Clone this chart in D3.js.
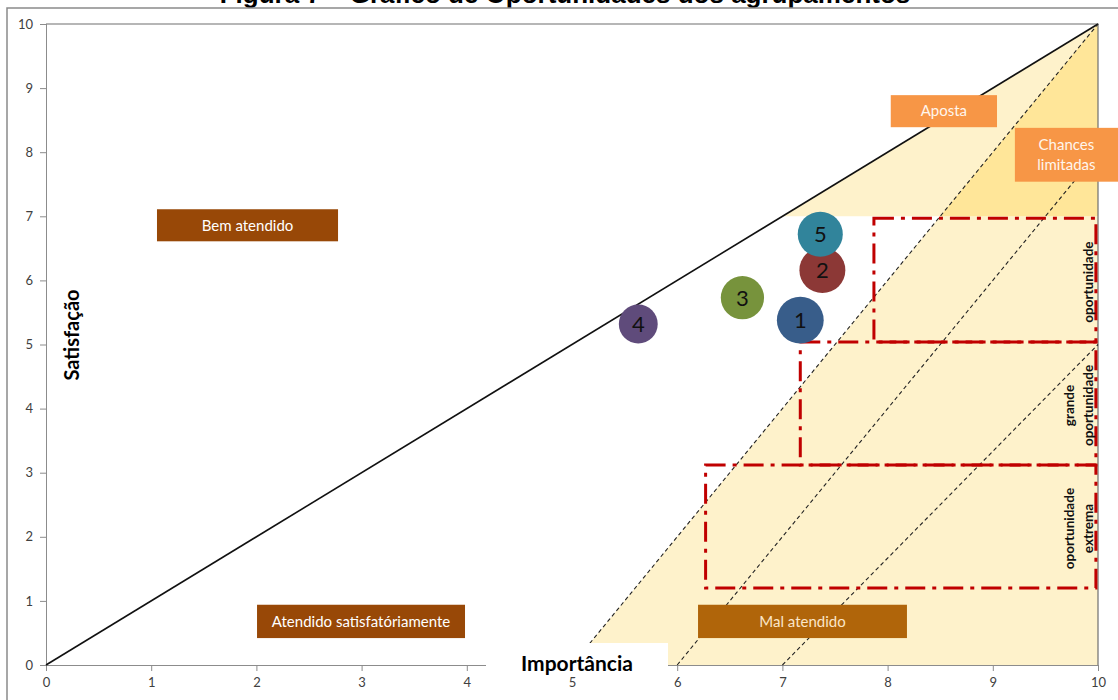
<!DOCTYPE html>
<html>
<head>
<meta charset="utf-8">
<script src="https://cdn.jsdelivr.net/npm/d3@7"></script>
<style>
  body { margin: 0; background: #fff; }
  svg { display: block; }
</style>
</head>
<body>
<div id="svg_container"></div>
<script>
var width = 1118,
    height = 700;

// agrupamentos (bolhas)
var grupos = ["1", "2", "3", "4", "5"];
var importancia = [7.17, 7.38, 6.62, 5.63, 7.36];
var satisfacao = [5.38, 6.16, 5.73, 5.32, 6.72];
var tamanho = [5.5, 5.3, 4.7, 3.8, 5.1];
var cores = ["#385D8A", "#8C3836", "#77933C", "#5F4B7B", "#31849B"];

var ticks = [0, 1, 2, 3, 4, 5, 6, 7, 8, 9, 10];

// linhas tracejadas de oportunidade
var tracejadas = [[[5, 0], [10, 10]], [[6, 0], [10, 8]], [[7, 0], [10, 5]]];

// faixas de oportunidade (retangulos vermelhos)
var faixas = [
  {x0: 7.87, x1: 9.98, y0: 5.04, y1: 6.97, linhas: ["oportunidade"]},
  {x0: 7.17, x1: 9.98, y0: 3.12, y1: 5.04, linhas: ["grande", "oportunidade"]},
  {x0: 6.27, x1: 9.98, y0: 1.20, y1: 3.12, linhas: ["oportunidade", "extrema"]}
];

// caixas de rotulos
var rotulos = [
  {texto: ["Bem atendido"], x0: 1.055, x1: 2.776, y0: 6.61, y1: 7.11, cor: "#984807", txt: "#ffffff"},
  {texto: ["Atendido satisfatóriamente"], x0: 2.006, x1: 3.983, y0: 0.42, y1: 0.94, cor: "#984807", txt: "#ffffff"},
  {texto: ["Mal atendido"], x0: 6.198, x1: 8.184, y0: 0.42, y1: 0.94, cor: "#B0650A", txt: "#FBE6C8"},
  {texto: ["Aposta"], x0: 8.03, x1: 9.04, y0: 8.39, y1: 8.89, cor: "#F79646", txt: "#FFF5EC"},
  {texto: ["Chances", "limitadas"], x0: 9.21, x1: 10.2, y0: 7.54, y1: 8.38, cor: "#F79646", txt: "#FFF5EC"}
];

var x = d3.scaleLinear().domain([0, 10]).range([46, 1098]);
var y = d3.scaleLinear().domain([0, 10]).range([665, 24]);
var r = d3.scaleSqrt().domain([0, d3.max(tamanho)]).range([0, 23.4]);

var svg = d3.select('#svg_container').append('svg')
    .attr('width', width)
    .attr('height', height)
    .style('font-family', 'Lato, "Open Sans", sans-serif');

// titulo (cortado no topo, como no original)
svg.append('text')
    .attr('x', 565).attr('y', 3)
    .attr('text-anchor', 'middle')
    .style('font-family', '"Liberation Sans", Arial, sans-serif')
    .style('font-weight', 'bold')
    .style('font-size', '26px')
    .text('Figura 7 – Gráfico de Oportunidades dos agrupamentos');

// moldura
svg.append('path')
    .attr('d', 'M7,' + height + 'V8H' + width)
    .style('fill', 'none').style('stroke', '#8a8a8a').style('stroke-width', 1.5);

// areas amarelas
var area = function (pts) {
  return 'M' + pts.map(function (p) { return x(p[0]) + ',' + y(p[1]); }).join('L') + 'Z';
};
svg.append('path').attr('d', area([[5, 0], [8.5, 7], [10, 7], [10, 0]])).style('fill', '#FEF2CB');
svg.append('path').attr('d', area([[7, 7], [10, 10], [10, 7]])).style('fill', '#FEF2CB');
svg.append('path').attr('d', area([[8.5, 7], [10, 10], [10, 7]])).style('fill', '#FFE699');

// eixos
var yAxis = d3.axisLeft(y).tickValues(ticks).tickSize(6).tickPadding(7);
var xAxis = d3.axisBottom(x).tickValues(ticks).tickSize(6).tickPadding(7);

var gy = svg.append('g').attr('transform', 'translate(' + x(0) + ',0)').call(yAxis);
var gx = svg.append('g').attr('transform', 'translate(0,' + y(0) + ')').call(xAxis);
[gx, gy].forEach(function (g) {
  g.selectAll('path,line').style('stroke', '#8c8c8c');
  g.selectAll('text').style('font-size', '13px').style('fill', '#404040')
    .style('font-family', 'Lato, sans-serif');
});

// borda superior e direita da area do grafico
svg.append('path')
    .attr('d', 'M' + x(0) + ',' + y(10) + 'H' + x(10) + 'V' + y(0))
    .style('fill', 'none').style('stroke', '#6f6f6f').style('stroke-width', 1.2);

// diagonal
svg.append('line')
    .attr('x1', x(0)).attr('y1', y(0)).attr('x2', x(10)).attr('y2', y(10))
    .style('stroke', '#111').style('stroke-width', 1.6);

svg.selectAll('line.tracejada').data(tracejadas)
  .enter().append('line')
    .attr('class', 'tracejada')
    .attr('x1', function (d) { return x(d[0][0]); })
    .attr('y1', function (d) { return y(d[0][1]); })
    .attr('x2', function (d) { return x(d[1][0]); })
    .attr('y2', function (d) { return y(d[1][1]); })
    .style('stroke', '#222').style('stroke-width', 1.1)
    .style('stroke-dasharray', '4,3');

// caixa branca do titulo do eixo x
svg.append('rect')
    .attr('x', 486).attr('y', 643).attr('width', 182).attr('height', 33)
    .style('fill', '#fff');

svg.append('text')
    .attr('x', 577).attr('y', 671)
    .attr('text-anchor', 'middle')
    .style('font-weight', 'bold').style('font-size', '21px')
    .text('Importância');

svg.append('text')
    .attr('transform', 'translate(79,335) rotate(-90)')
    .attr('text-anchor', 'middle')
    .style('font-weight', 'bold').style('font-size', '20px')
    .text('Satisfação');

// faixas vermelhas
svg.selectAll('rect.faixa').data(faixas)
  .enter().append('rect')
    .attr('class', 'faixa')
    .attr('x', function (d) { return x(d.x0); })
    .attr('y', function (d) { return y(d.y1); })
    .attr('width', function (d) { return x(d.x1) - x(d.x0); })
    .attr('height', function (d) { return y(d.y0) - y(d.y1); })
    .style('fill', 'none').style('stroke', '#C00000').style('stroke-width', 3)
    .style('stroke-dasharray', '20,7,4,7');

svg.selectAll('g.faixaTxt').data(faixas)
  .enter().append('g')
    .attr('class', 'faixaTxt')
    .attr('transform', function (d) {
      var n = d.linhas.length;
      return 'translate(' + (x(10) - 10 - (n - 1) * 19) + ',' + (y((d.y0 + d.y1) / 2) + 2) + ') rotate(-90)';
    })
    .each(function (d) {
      var t = d3.select(this).append('text')
          .attr('text-anchor', 'middle')
          .style('font-weight', 'bold').style('font-size', '13.5px').style('fill', '#111');
      d.linhas.forEach(function (l, i) {
        t.append('tspan').attr('x', 0).attr('y', i * 19).attr('dy', '0.35em').text(l);
      });
    });

// caixas de rotulos
var caixas = svg.selectAll('g.rotulo').data(rotulos)
  .enter().append('g').attr('class', 'rotulo');
caixas.append('rect')
    .attr('x', function (d) { return x(d.x0); })
    .attr('y', function (d) { return y(d.y1); })
    .attr('width', function (d) { return x(d.x1) - x(d.x0); })
    .attr('height', function (d) { return y(d.y0) - y(d.y1); })
    .style('fill', function (d) { return d.cor; });
caixas.append('text')
    .attr('text-anchor', 'middle')
    .style('font-size', '15px')
    .style('fill', function (d) { return d.txt; })
    .each(function (d) {
      var cx = (x(d.x0) + x(Math.min(d.x1, 10.19))) / 2,
          cy = (y(d.y0) + y(d.y1)) / 2,
          n = d.texto.length;
      var t = d3.select(this);
      d.texto.forEach(function (l, i) {
        t.append('tspan').attr('x', cx)
          .attr('y', cy + (i - (n - 1) / 2) * 20)
          .attr('dy', '0.35em').text(l);
      });
    });

// bolhas
var bolhas = svg.selectAll('g.bolha').data(grupos)
  .enter().append('g').attr('class', 'bolha')
    .attr('transform', function (d, i) {
      return 'translate(' + x(importancia[i]) + ',' + y(satisfacao[i]) + ')';
    });
bolhas.append('circle')
    .attr('r', function (d, i) { return r(tamanho[i]); })
    .style('fill', function (d, i) { return cores[i]; });
bolhas.append('text')
    .attr('text-anchor', 'middle').attr('dy', '0.36em')
    .style('font-size', '22px').style('fill', '#111')
    .text(function (d) { return d; });
</script>
</body>
</html>
